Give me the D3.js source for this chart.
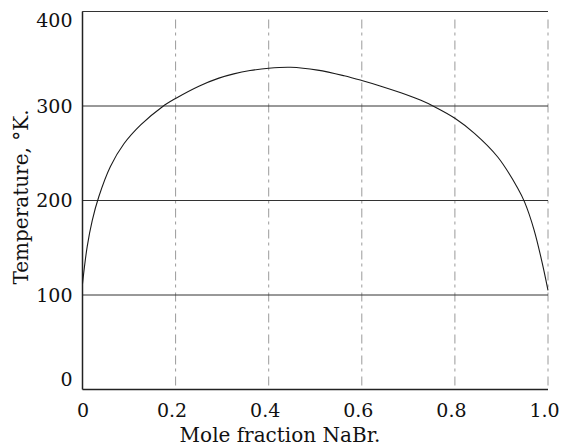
<!DOCTYPE html>
<html>
<head>
<meta charset="utf-8">
<script src="https://cdn.jsdelivr.net/npm/d3@7"></script>
<style>
  body { margin: 0; background: #fff; }
  text { font-family: "DejaVu Serif", serif; fill: #111; }
</style>
</head>
<body>
<div id="chart"></div>
<script>
// curve
var moleFraction = [0, 0.010, 0.021, 0.035, 0.060, 0.089, 0.125, 0.171, 0.20, 0.25, 0.293, 0.325, 0.36, 0.40, 0.447, 0.505, 0.562, 0.60, 0.641, 0.684, 0.727, 0.755, 0.80, 0.842, 0.892, 0.935, 0.950, 0.970, 0.988, 1.0];
var temperature  = [112, 151, 179, 204, 236, 260, 280, 299, 308, 321, 329.5, 334, 337.5, 340, 341, 338, 332, 327, 321, 314, 306, 299.5, 287, 271, 246, 213, 198, 169, 133, 105];

var xTicks = [0, 0.2, 0.4, 0.6, 0.8, 1.0];
var xTickLabels = ["0", "0.2", "0.4", "0.6", "0.8", "1.0"];
var yTicks = [0, 100, 200, 300, 400];

var width = 565, height = 448;
var plot = {left: 82.5, right: 548, top: 11.5, bottom: 389.5};

var x = d3.scaleLinear().domain([0, 1]).range([plot.left, plot.right]);
var y = d3.scaleLinear().domain([0, 400]).range([plot.bottom, plot.top]);

var svg = d3.select("#chart").append("svg")
    .attr("width", width)
    .attr("height", height);

svg.append("rect").attr("width", width).attr("height", height).attr("fill", "#fff");

// VERTICAL GRID (broken grey lines in the print)
svg.selectAll(".vgrid")
    .data(xTicks.slice(1))
    .enter().append("line")
    .attr("class", "vgrid")
    .attr("x1", function(d) { return x(d); })
    .attr("x2", function(d) { return x(d); })
    .attr("y1", y(400) + 8)
    .attr("y2", y(0))
    .attr("stroke", "#9a9a9a")
    .attr("stroke-width", 1)
    .attr("stroke-dasharray", "9,4,3,5");

// HORIZONTAL GRID
svg.selectAll(".hgrid")
    .data(yTicks.slice(1))
    .enter().append("line")
    .attr("class", "hgrid")
    .attr("x1", x(0))
    .attr("x2", x(1))
    .attr("y1", function(d) { return y(d); })
    .attr("y2", function(d) { return y(d); })
    .attr("stroke", "#333")
    .attr("stroke-width", 1);

// AXES
var xAxis = d3.axisBottom(x).tickValues(xTicks).tickSize(0)
    .tickFormat(function(d, i) { return xTickLabels[i]; });
var yAxis = d3.axisLeft(y).tickValues(yTicks).tickSize(0).tickFormat(d3.format("d"));

var gx = svg.append("g")
    .attr("transform", "translate(0," + y(0) + ")")
    .call(xAxis);
gx.select(".domain").remove();
gx.selectAll("text")
    .attr("font-family", "DejaVu Serif")
    .attr("font-size", 19)
    .attr("fill", "#111")
    .attr("y", 14)
    .attr("dy", "0.71em")
    .attr("dx", function(d) { return d === 0 ? 0 : -4; });

var gy = svg.append("g")
    .attr("transform", "translate(" + x(0) + ",0)")
    .call(yAxis);
gy.select(".domain").remove();
gy.selectAll("text")
    .attr("font-family", "DejaVu Serif")
    .attr("font-size", 19)
    .attr("fill", "#111")
    .attr("x", -10)
    .attr("dy", function(d) { return d === 400 ? "0.78em" : (d === 0 ? "-0.2em" : "0.34em"); });

// frame: left, bottom and top solid, right one broken like the grid
svg.append("line").attr("x1", x(0)).attr("x2", x(0)).attr("y1", y(400)).attr("y2", y(0))
    .attr("stroke", "#222").attr("stroke-width", 1.5);
svg.append("line").attr("x1", x(0)).attr("x2", x(1)).attr("y1", y(0)).attr("y2", y(0))
    .attr("stroke", "#222").attr("stroke-width", 1.5);
svg.append("line").attr("x1", x(0)).attr("x2", x(1)).attr("y1", y(400)).attr("y2", y(400))
    .attr("stroke", "#333").attr("stroke-width", 1.2);

// CURVE
var points = moleFraction.map(function(d, i) { return [d, temperature[i]]; });

var line = d3.line()
    .curve(d3.curveCatmullRom.alpha(0.5))
    .x(function(d) { return x(d[0]); })
    .y(function(d) { return y(d[1]); });

svg.append("path")
    .datum(points)
    .attr("d", line)
    .attr("fill", "none")
    .attr("stroke", "#1a1a1a")
    .attr("stroke-width", 1.1);

// AXIS TITLES
svg.append("text")
    .attr("x", 280)
    .attr("y", 442)
    .attr("text-anchor", "middle")
    .attr("font-size", 20)
    .text("Mole fraction NaBr.");

svg.append("text")
    .attr("transform", "translate(28,197) rotate(-90)")
    .attr("text-anchor", "middle")
    .attr("font-size", 20)
    .text("Temperature, \u00b0K.");
</script>
</body>
</html>
